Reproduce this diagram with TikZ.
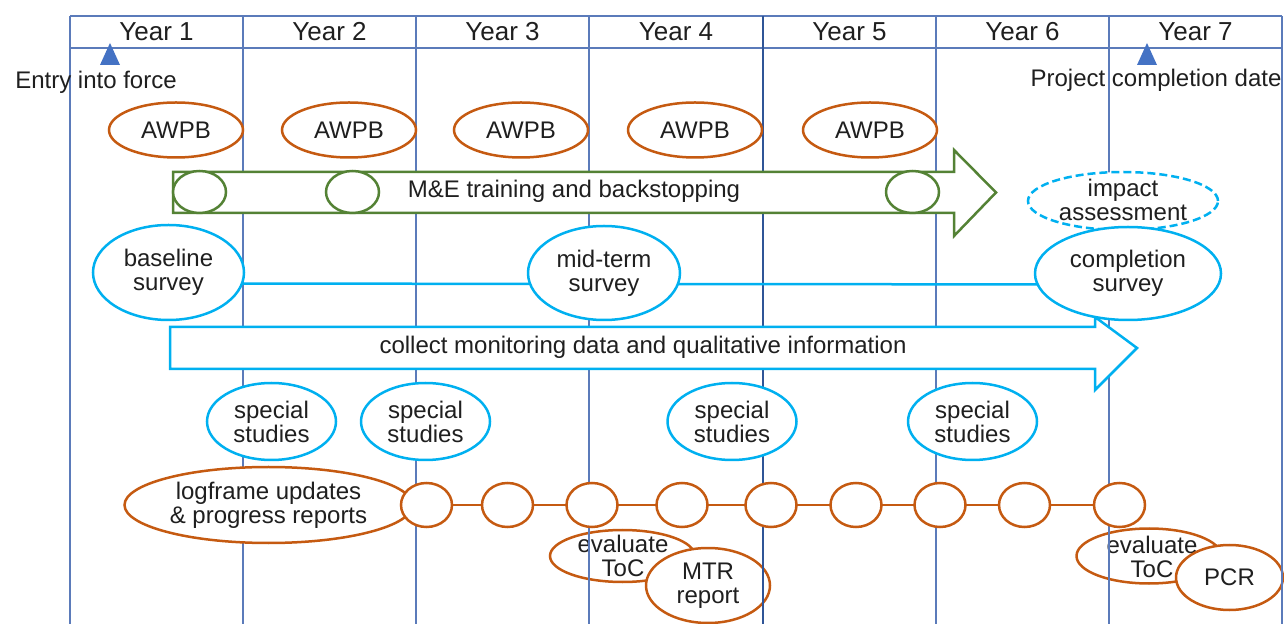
\documentclass[tikz,border=0pt]{standalone}
\usepackage{fontspec}
\setmainfont{Liberation Sans}
\usetikzlibrary{shapes.geometric}
\definecolor{gridc}{HTML}{5B7BBA}
\definecolor{gridd}{HTML}{2F5597}
\definecolor{orng}{HTML}{C55A11}
\definecolor{grn}{HTML}{548235}
\definecolor{lblue}{HTML}{00B0F0}
\definecolor{tric}{HTML}{4472C4}
\definecolor{txtc}{HTML}{1F1F1F}
\pgfdeclarelayer{back}
\pgfdeclarelayer{grid}
\pgfdeclarelayer{conn}
\pgfsetlayers{back,grid,conn,main}
\begin{document}
\begin{tikzpicture}[x=0.5pt,y=-0.5pt,
  every node/.style={text=txtc, font=\fontsize{12}{12}\selectfont},
  gridline/.style={draw=gridc, line width=0.7pt},
  midline/.style={draw=gridd, line width=1pt},
  hdr/.style={font=\fontsize{13}{13}\selectfont},
  lbl/.style={align=center, inner sep=0pt},
  ell/.style={ellipse, draw, fill=white, line width=1.25pt, inner sep=0pt, align=center},
  awpb/.style={ell, draw=orng, minimum width=67pt, minimum height=27.5pt},
  gell/.style={ell, draw=grn, minimum width=26.5pt, minimum height=21pt},
  surv/.style={ell, draw=lblue},
  spec/.style={ell, draw=lblue, minimum width=64.5pt, minimum height=38.5pt},
  ring/.style={ell, draw=orng, minimum width=25.5pt, minimum height=22pt},
  oell/.style={ell, draw=orng},
  bigarrow/.style={line width=1.25pt, fill=white, line join=miter},
  tri/.style={fill=tric}
]
\useasboundingbox (0,0) rectangle (1284,624);

% grid
\begin{pgfonlayer}{grid}
  \draw[gridline] (70,16) -- (1282,16);
  \draw[gridline] (70,48) -- (1282,48);
  \foreach \x in {70,243,416,589,936,1109,1282}
    \draw[gridline] (\x,16) -- (\x,624);
  \draw[midline] (763,16) -- (763,624);
\end{pgfonlayer}

% header
\foreach \i/\x in {1/156.5,2/329.5,3/502.5,4/676,5/849.5,6/1022.5,7/1195.5}
  \node[hdr] (yr\i) at (\x,32) {Year \i};

% milestones
\fill[tri] (100,65) -- (120,65) -- (110,43) -- cycle;
\fill[tri] (1137,65) -- (1157,65) -- (1147,43) -- cycle;
\node (entry) at (96,82) {Entry into force};
\node (pcd) at (1156,80) {Project completion date};

% AWPB
\foreach \i/\x in {1/176,2/349,3/521,4/695,5/870}
  \node[awpb] (awpb\i) at (\x,130) {AWPB};

% M&E arrow
\draw[bigarrow, draw=grn] (173,172) -- (954,172) -- (954,150) -- (996,192.5)
  -- (954,236) -- (954,213) -- (173,213) -- cycle;
\node (metxt) at (574,191) {M\&E training and backstopping};
\node[gell] (ge1) at (199.5,192) {};
\node[gell] (ge2) at (352.5,192) {};
\node[gell] (ge3) at (912.5,192) {};

% collect arrow
\draw[bigarrow, draw=lblue] (170,327) -- (1095,327) -- (1095,317) -- (1137,348)
  -- (1095,390) -- (1095,369) -- (170,369) -- cycle;
\node (coltxt) at (643,347) {collect monitoring data and qualitative information};

% impact assessment
\node[ell, draw=lblue, dash pattern=on 4pt off 2pt, minimum width=95pt, minimum height=29pt] (impact) at (1123,201) {};
\node[lbl] (impactt) at (1123,200) {impact\\assessment};

% surveys
\node[surv, minimum width=75.5pt, minimum height=47.5pt] (baseline) at (168.5,272.5) {baseline\\survey};
\node[surv, minimum width=76pt, minimum height=47pt] (midterm) at (604,273) {mid-term\\survey};
\node[surv, minimum width=93pt, minimum height=46.5pt] (completion) at (1128,273.5) {completion\\survey};
\begin{pgfonlayer}{conn}
  \draw[lblue, line width=1.25pt] ([yshift=-5.5pt]baseline.center) -- ([yshift=-5.5pt]completion.center);
\end{pgfonlayer}

% special studies
\foreach \i/\x in {1/271.5,2/425.5,3/732,4/972.5}
  \node[spec] (spec\i) at (\x,421.5) {special\\studies};

% logframe chain
\node[oell, minimum width=144pt, minimum height=38pt] (logframe) at (268.5,505) {logframe updates\\\& progress reports};
\foreach \i/\x in {1/426.5,2/507.5,3/592,4/682,5/771,6/856,7/940,8/1024.5,9/1119.5}
  \node[ring] (c\i) at (\x,505) {};
\begin{pgfonlayer}{conn}
  \draw[orng, line width=1.25pt] (logframe.center) -- (c9.center);
\end{pgfonlayer}

% evaluations (behind the grid)
\begin{pgfonlayer}{back}
  \node[oell, minimum width=72.5pt, minimum height=26pt] (evalA) at (622.5,556) {};
  \node[lbl] (evalAt) at (623,556) {evaluate\\ToC};
  \node[oell, minimum width=62pt, minimum height=37.5pt] (mtr) at (708,585.5) {MTR\\report};
  \node[oell, minimum width=72.5pt, minimum height=27.5pt] (evalB) at (1149,556) {};
  \node[lbl] (evalBt) at (1152,557) {evaluate\\ToC};
  \node[oell, minimum width=53.5pt, minimum height=32.5pt] (pcr) at (1229.5,577.5) {PCR};
\end{pgfonlayer}
\end{tikzpicture}
\end{document}
